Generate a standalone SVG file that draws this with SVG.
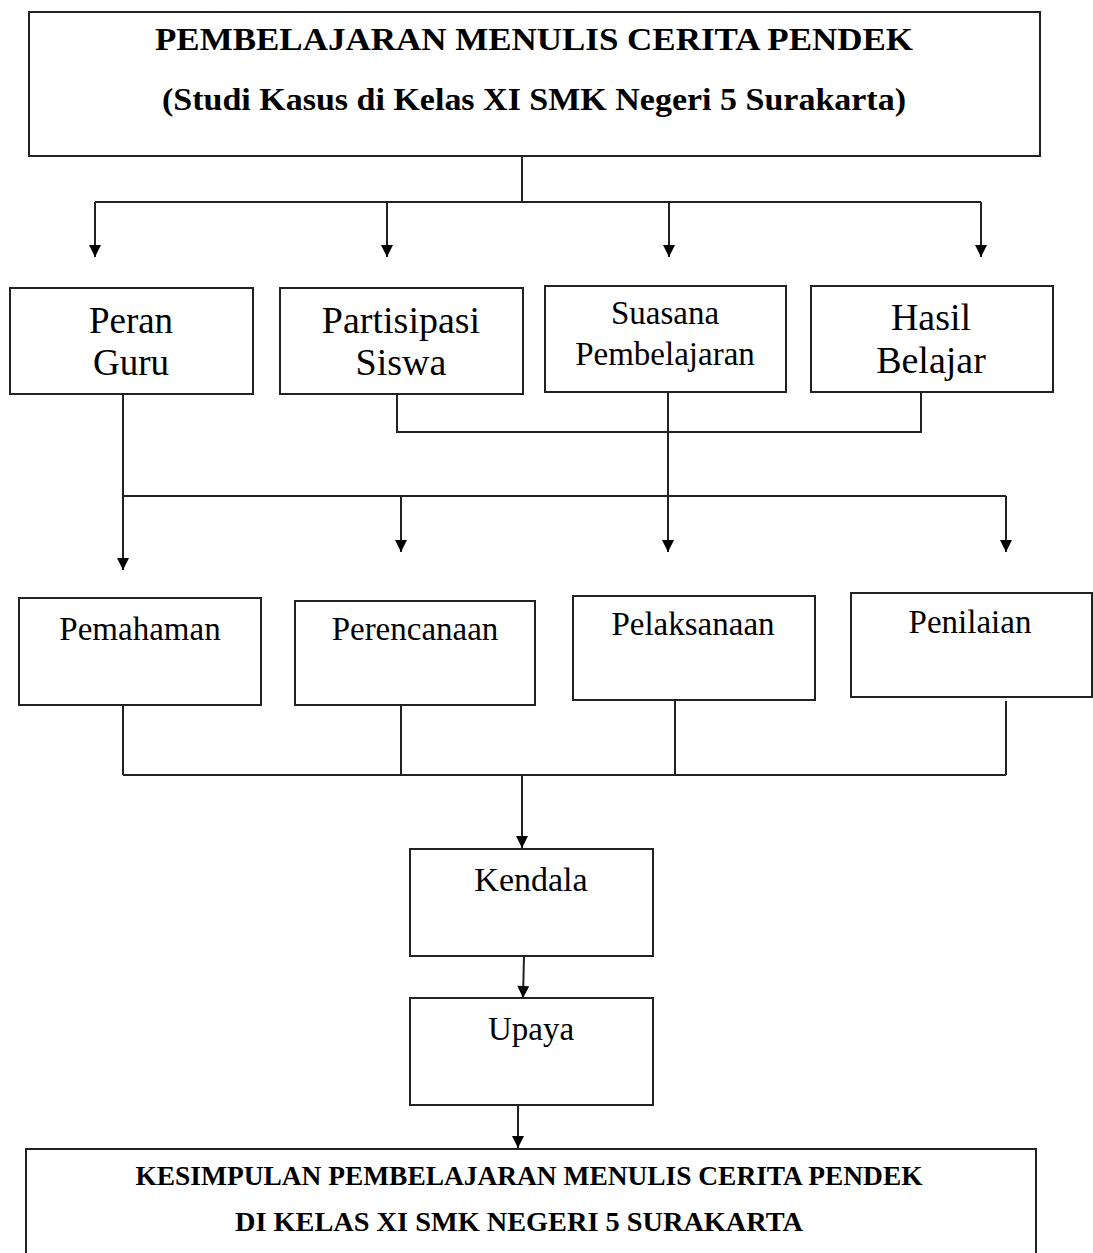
<svg xmlns="http://www.w3.org/2000/svg" width="1093" height="1253" viewBox="0 0 1093 1253">
<style>
.box{fill:#fff;stroke:#222;stroke-width:2}
.t{font-family:"Liberation Serif","Times New Roman",serif;fill:#000;text-anchor:middle}
.b{font-weight:bold}
.c{fill:none;stroke:#222;stroke-width:2}
</style>
<defs>
<marker id="ah" viewBox="0 0 10 10" refX="10" refY="5" markerWidth="15" markerHeight="12" markerUnits="userSpaceOnUse" orient="auto">
<path d="M0,0 L10,5 L0,10 z" fill="#000"/>
</marker>
</defs>
<rect width="1093" height="1253" fill="#fff"/>

<g id="connectors">
<path class="c" d="M522,156 V202 M95,202 H981"/>
<path class="c" d="M95,202 V257" marker-end="url(#ah)"/>
<path class="c" d="M387,202 V257" marker-end="url(#ah)"/>
<path class="c" d="M669,202 V257" marker-end="url(#ah)"/>
<path class="c" d="M981,202 V257" marker-end="url(#ah)"/>

<path class="c" d="M397,394 V432 H921 V392"/>
<path class="c" d="M123,394 V570" marker-end="url(#ah)"/>
<path class="c" d="M668,392 V552" marker-end="url(#ah)"/>
<path class="c" d="M123,496 H1006"/>
<path class="c" d="M401,496 V552" marker-end="url(#ah)"/>
<path class="c" d="M1006,496 V552" marker-end="url(#ah)"/>

<path class="c" d="M123,705 V775 M401,705 V775 M675,700 V775 M1006,701 V775 M123,775 H1006"/>
<path class="c" d="M522,775 V848" marker-end="url(#ah)"/>
<path class="c" d="M524,956 L523,998" marker-end="url(#ah)"/>
<path class="c" d="M518,1105 V1148" marker-end="url(#ah)"/>
</g>

<g id="title">
<rect class="box" x="29" y="12" width="1011" height="144"/>
<text class="t b" x="534" y="50" font-size="32" textLength="758" lengthAdjust="spacingAndGlyphs">PEMBELAJARAN MENULIS CERITA PENDEK</text>
<text class="t b" x="534" y="110" font-size="32" textLength="744" lengthAdjust="spacingAndGlyphs">(Studi Kasus di Kelas XI SMK Negeri 5 Surakarta)</text>
</g>

<g id="peran-guru">
<rect class="box" x="10" y="288" width="243" height="106"/>
<text class="t" x="131" y="333" font-size="37">Peran</text>
<text class="t" x="131" y="375" font-size="37">Guru</text>
</g>
<g id="partisipasi-siswa">
<rect class="box" x="280" y="288" width="243" height="106"/>
<text class="t" x="401" y="333" font-size="38">Partisipasi</text>
<text class="t" x="401" y="375" font-size="38">Siswa</text>
</g>
<g id="suasana-pembelajaran">
<rect class="box" x="545" y="286" width="241" height="106"/>
<text class="t" x="665" y="324" font-size="33">Suasana</text>
<text class="t" x="665" y="365" font-size="33">Pembelajaran</text>
</g>
<g id="hasil-belajar">
<rect class="box" x="811" y="286" width="242" height="106"/>
<text class="t" x="931" y="330" font-size="38">Hasil</text>
<text class="t" x="931" y="373" font-size="38">Belajar</text>
</g>

<g id="pemahaman">
<rect class="box" x="19" y="598" width="242" height="107"/>
<text class="t" x="140" y="640" font-size="33">Pemahaman</text>
</g>
<g id="perencanaan">
<rect class="box" x="295" y="601" width="240" height="104"/>
<text class="t" x="415" y="640" font-size="33">Perencanaan</text>
</g>
<g id="pelaksanaan">
<rect class="box" x="573" y="596" width="242" height="104"/>
<text class="t" x="693" y="635" font-size="33">Pelaksanaan</text>
</g>
<g id="penilaian">
<rect class="box" x="851" y="593" width="241" height="104"/>
<text class="t" x="970" y="633" font-size="33">Penilaian</text>
</g>

<g id="kendala">
<rect class="box" x="410" y="849" width="243" height="107"/>
<text class="t" x="531" y="891" font-size="34">Kendala</text>
</g>
<g id="upaya">
<rect class="box" x="410" y="998" width="243" height="107"/>
<text class="t" x="531" y="1040" font-size="33">Upaya</text>
</g>

<g id="kesimpulan">
<rect class="box" x="26" y="1149" width="1010" height="120"/>
<text class="t b" x="529" y="1185" font-size="27" textLength="787" lengthAdjust="spacingAndGlyphs">KESIMPULAN PEMBELAJARAN MENULIS CERITA PENDEK</text>
<text class="t b" x="519" y="1231" font-size="27" textLength="568" lengthAdjust="spacingAndGlyphs">DI KELAS XI SMK NEGERI 5 SURAKARTA</text>
</g>
</svg>
